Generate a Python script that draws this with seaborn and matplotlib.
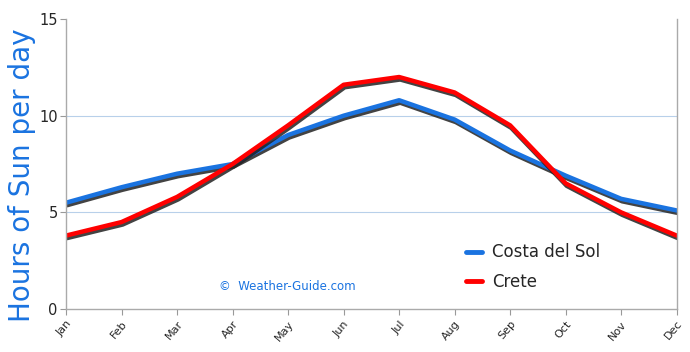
import seaborn as sns
import matplotlib.pyplot as plt
import matplotlib.patheffects as pe
import pandas as pd

months = ['Jan', 'Feb', 'Mar', 'Apr', 'May', 'Jun', 'Jul', 'Aug', 'Sep', 'Oct', 'Nov', 'Dec']
costa_del_sol = [5.5, 6.3, 7.0, 7.5, 9.0, 10.0, 10.8, 9.8, 8.2, 6.9, 5.7, 5.1]
crete = [3.8, 4.5, 5.8, 7.5, 9.5, 11.6, 12.0, 11.2, 9.5, 6.5, 5.0, 3.8]

df = pd.DataFrame({
    'month': months * 2,
    'hours': costa_del_sol + crete,
    'place': ['Costa del Sol'] * 12 + ['Crete'] * 12,
})
df['idx'] = list(range(12)) * 2

sns.set_style('white')
plt.rcParams['font.family'] = ['DejaVu Sans']

fig = plt.figure(figsize=(6.9, 3.52), dpi=100)
ax = fig.add_axes([0.0957, 0.122, 0.885, 0.824])

shadow = [pe.SimpleLineShadow(offset=(0.8, -1.8), shadow_color='#222222', alpha=0.85),
          pe.Normal()]
ax = sns.lineplot(data=df, x='idx', y='hours', hue='place',
                  palette={'Costa del Sol': '#1a73e0', 'Crete': '#ff0000'},
                  linewidth=3.2, ax=ax, legend=True)
for line in ax.get_lines():
    line.set_path_effects(shadow)
    line.set_solid_joinstyle('round')
    line.set_solid_capstyle('round')

ax.set_xlim(0, 11)
ax.set_ylim(0, 15)
ax.set_xticks(range(12))
ax.set_xticklabels(months, rotation=50, fontsize=8, ha='right', rotation_mode='anchor')
ax.set_yticks([0, 5, 10, 15])
ax.tick_params(axis='y', labelsize=10.5, length=4, color='#999999', pad=2)
ax.tick_params(axis='x', length=4, color='#999999', pad=3, bottom=True)
ax.tick_params(axis='y', left=True)
for y in [5, 10]:
    ax.axhline(y, color='#b8d0ea', linewidth=0.8, zorder=0)
for side in ['left', 'bottom', 'right']:
    ax.spines[side].set_color('#aaaaaa')
    ax.spines[side].set_linewidth(1)
ax.spines['top'].set_visible(False)

ax.set_xlabel('')
ax.set_ylabel('Hours of Sun per day', fontsize=20, color='#1a73e0')
ax.yaxis.set_label_coords(-0.05, 0.46)

leg = ax.legend(loc='lower left', bbox_to_anchor=(0.63, 0.01), frameon=False,
                fontsize=12, handlelength=1.0, labelspacing=0.7, handletextpad=0.6)
for h in leg.get_lines():
    h.set_linewidth(3.5)
    h.set_path_effects([])

ax.text(0.25, 0.065, '©  Weather-Guide.com', transform=ax.transAxes,
        fontsize=8.5, color='#1a73e0')

plt.savefig('out.png', dpi=100)
plt.close()
